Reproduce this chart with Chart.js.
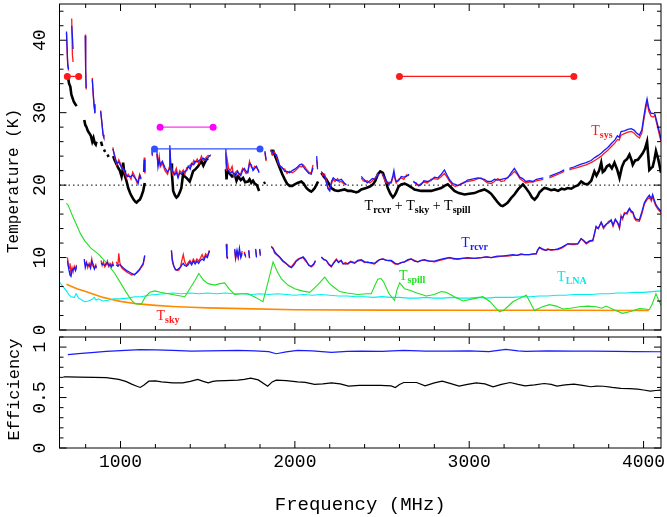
<!DOCTYPE html>
<html>
<head>
<meta charset="utf-8">
<script src="https://cdn.jsdelivr.net/npm/chart.js@4"></script>
<style>
  body { margin: 0; background: #fff; }
  #wrap { position: relative; width: 667px; height: 517px; }
  canvas { position: absolute; left: 0; }
</style>
</head>
<body>
<div id="wrap">
  <canvas id="chart_temp" width="667" height="334" style="top:0"></canvas>
  <canvas id="chart_eff" width="667" height="183" style="top:334px"></canvas>
</div>
<script>
// ---- data (frequency in MHz, temperature in K) ----
const tsysFreq = [
  690,697,702,711, 720,724,728,760, 798,800,803,820,
  838,843,848,853,870, 886,893,900,904,930,
  956,965,979,990,1006,1020,1035,1044,1060,1070,1082,1095,1101,1110,1118,1125,
  1132,1136,1140,1160, 1180,1183,1195,
  1208,1215,1222,1228,1240,1255,1270,1280,1283,1288,
  1300,1311,1320,1330,1340,1349,1360,1369,1380,1388,
  1400,1407,1420,1426,1440,1450,1464,1475,1490,1502,1517,1560,
  1604,1607,1612,1620,1630,1640,1650,1660,1670,1680,
  1690,1700,1710,1720,1730,1740,1750,1760,1770,1780,1795,1810,
  1828,1835,1850,
  1862,1870,1880,1894,1905,1913,1925,1942,1955,1970,
  1985,1999,2015,2027,2040,2047,2058,2066,2080,2094,2104,2115,
  2125,2130,2140,
  2152,2162,2171,2182,2190,2200,2210,2220,2230,2245,
  2255,2266,2280,2295,2340,
  2381,2392,2400,2415,2430,2445,2460,2475,2482,2490,
  2500,2510,2524,2540,2553,2562,2568,2575,2581,2595,
  2610,2625,2640,2655,2668,
  2680,2695,2710,2725,2740,2760,2780,2800,2820,2840,
  2858,2870,2888,2906,2920,2935,2954,2970,2990,3011,
  3030,3050,3068,3087,3105,3126,3145,3164,3183,3202,
  3221,3240,3259,3275,3290,3307,3325,3345,3365,3385,
  3405,3425,3442,
  3460,3480,3500,3520,3545,3560,
  3575,3600,3620,3642,3670,3699,3720,3740,3757,3775,
  3795,3814,3835,3850,3860,3871,3890,3910,3929,3945,
  3960,3976,3990,4000,4012,4020,4030,4043,4055,4065,4081,4092,4100
];
const tsysMeasured = [
  41.0,36.5,35.8,null, 43.0,38.0,37.0,null, 40.8,36.0,33.2,null,
  34.8,32.5,31.0,30.0,null, 30.3,28.5,27.0,26.7,null,
  25.2,24.0,22.8,23.5,22.6,21.9,21.0,21.5,20.8,21.8,21.2,20.3,20.6,21.5,21.0,null,
  22.0,23.8,21.6,null, 24.5,24.0,null,
  24.3,23.0,24.0,22.5,23.0,22.0,21.5,22.5,25.0,22.8,
  21.4,21.7,22.3,21.2,22.0,21.7,22.1,21.5,22.4,22.4,
  22.8,22.6,23.4,23.0,23.6,23.0,24.0,23.4,23.8,24.1,24.0,null,
  24.5,22.0,23.5,22.3,22.0,22.6,21.2,21.8,22.0,21.4,
  21.6,22.3,22.0,21.6,21.8,23.3,22.5,22.2,22.6,22.4,21.9,null,
  24.5,23.3,null,
  24.9,24.2,24.6,24.0,23.0,22.8,22.3,22.2,21.6,21.9,
  21.7,21.9,22.3,22.6,22.5,22.8,22.5,22.2,21.8,21.7,22.8,null,
  23.5,22.5,null,
  21.9,21.3,21.5,20.5,19.6,19.4,20.2,20.8,20.5,20.9,
  20.4,20.5,20.2,20.1,null,
  21.0,20.6,20.5,20.6,20.3,20.6,21.0,21.5,21.3,null,
  21.6,21.0,20.3,20.4,20.3,21.0,21.5,20.8,20.3,20.8,
  21.0,20.8,21.4,21.3,null,
  20.6,20.1,20.0,20.2,20.4,20.3,20.8,20.9,20.8,21.2,
  21.6,21.2,20.5,20.0,19.8,20.0,20.1,20.4,20.5,20.6,
  20.7,20.9,21.0,20.6,20.3,20.2,20.5,20.9,20.5,20.6,
  21.1,21.4,21.9,21.5,20.9,20.6,20.3,20.4,20.4,20.6,
  20.7,20.8,null,
  21.0,21.2,21.4,21.6,21.9,null,
  22.1,22.3,22.4,22.6,22.8,23.1,23.4,23.7,24.0,24.4,
  24.8,25.3,25.8,26.3,26.2,26.9,27.1,27.3,27.4,27.2,
  26.8,26.5,27.2,28.8,30.5,31.5,30.2,29.5,29.4,29.6,27.9,26.8,26.0
];
const tsysModel = [
  41.2,36.8,36.0,null, 42.0,40.5,38.8,null, 40.6,35.8,33.4,null,
  34.6,32.8,31.2,29.9,null, 30.2,28.7,26.9,26.6,null,
  25.0,24.2,23.0,23.2,22.4,22.2,21.3,21.2,21.2,21.4,21.0,20.6,20.2,21.3,20.8,null,
  21.8,23.5,21.8,null, 24.8,24.2,null,
  24.9,22.5,23.5,22.8,23.3,22.4,21.8,22.2,25.5,22.8,
  21.9,21.4,21.8,21.0,21.7,21.5,21.8,21.9,22.0,22.6,
  22.2,23.0,22.8,23.3,23.2,23.4,23.6,23.7,23.4,23.8,24.2,null,
  25.0,23.0,22.2,22.0,21.6,21.9,21.5,21.2,21.9,21.6,
  21.3,22.0,22.3,21.9,21.7,23.0,22.8,22.0,22.3,22.6,21.7,null,
  24.7,23.5,null,
  24.8,24.6,24.3,24.2,23.4,22.6,22.5,21.9,21.9,21.7,
  22.0,22.2,22.5,22.8,22.9,22.6,22.2,22.0,21.6,21.5,22.4,null,
  24.0,22.2,null,
  21.7,21.6,21.2,20.2,19.5,19.2,20.5,21.0,20.8,20.6,
  20.7,20.8,20.4,20.0,null,
  21.2,20.9,20.7,20.3,20.6,20.9,20.8,21.3,21.6,null,
  21.4,21.3,20.6,20.1,20.5,21.3,22.0,21.0,20.5,20.6,
  21.2,21.1,21.2,21.5,null,
  20.4,20.3,19.9,20.1,20.6,20.5,20.6,21.1,21.0,21.5,
  22.1,21.5,20.7,20.2,20.1,19.9,20.2,20.3,20.7,20.8,
  20.9,21.0,20.9,20.8,20.5,20.5,20.8,20.7,20.8,20.9,
  21.0,21.7,22.3,21.7,21.1,20.9,20.5,20.6,20.5,20.8,
  20.9,21.0,null,
  21.2,21.4,21.6,21.8,22.1,null,
  22.3,22.5,22.7,22.9,23.1,23.4,23.8,24.1,24.4,24.8,
  25.2,25.7,26.2,26.8,26.6,27.4,27.5,27.7,27.8,27.6,
  27.2,26.9,27.6,29.2,31.0,31.9,30.6,29.9,29.9,29.8,28.3,27.2,26.3
];

// Trcvr + Tsky + Tspill (black)
const sumFreq = [
  698,705,712,718,725,732,740,748,770,
  792,798,805,812,820,830,838,845,852,858,862,875,
  888,895,900,905,912,918,925,932,945,
  958,965,975,986,996,1006,1012,1015,1020,1025,1035,1044,1055,1063,1075,1085,1092,1100,1111,1120,1130,1139,1200,
  1290,1295,1302,1312,1321,1330,1340,1349,1355,1359,1368,1378,1390,1397,1407,1416,1430,1445,1455,1464,1475,1483,1492,1502,1550,
  1605,1608,1612,1625,1640,1655,1665,1675,1690,1703,1715,1731,1740,1750,1760,1770,1782,1795,1810,
  1822,1830,1845,
  1865,1872,1878,1884,1895,1913,1928,1942,1955,1970,1985,1999,2015,2037,2050,2066,2080,2094,2104,2114,2125,2133,2142,
  2152,2165,2180,2195,2209,2228,2247,2265,2285,2305,
  2323,2340,2352,2365,2381,2395,2409,2430,2448,2462,
  2476,2490,2505,2518,2533,2548,2562,2572,2581,2595,
  2610,2630,2648,2668,2686,2705,2724,2750,2782,2810,
  2839,2858,2877,2895,2915,2940,2973,3000,3030,3060,
  3087,3110,3126,3145,3164,3180,3192,3205,3221,3240,
  3259,3280,3308,3325,3346,3360,3375,3390,3403,3420,
  3432,3450,3470,3489,3510,3530,3547,3565,3585,3604,
  3625,3642,3660,3680,3700,3718,3730,3745,3757,3766,
  3776,3790,3804,3818,3833,3848,3862,3876,3890,3905,
  3919,3930,3938,3952,3967,3980,3995,4008,4020,4027,
  4033,4045,4052,4062,4071,4085,4100
];
const sumTemp = [
  35.0,34.0,33.6,32.5,32.0,31.5,31.2,30.9,null,
  29.0,28.3,28.0,27.5,27.2,26.8,26.0,26.5,25.8,25.6,26.0,null,
  26.0,25.4,null,24.9,24.6,null,24.2,23.9,null,
  24.0,23.5,23.0,22.4,22.0,21.2,22.0,23.1,22.0,21.3,20.5,19.6,18.9,18.5,18.0,17.7,17.6,17.8,18.0,18.5,19.2,20.3,null,
  23.0,21.5,19.2,18.6,18.3,18.5,19.0,19.6,20.8,21.5,21.2,21.0,20.7,20.5,21.2,21.9,22.2,22.6,23.0,23.3,22.7,23.1,23.5,23.7,null,
  22.2,20.8,22.0,21.6,21.2,21.5,20.6,21.2,20.7,21.0,20.4,20.5,20.8,20.3,20.6,20.2,20.0,19.2,null,
  20.2,20.4,null,
  24.9,24.4,24.6,24.2,23.5,22.4,21.5,20.8,20.2,19.9,19.9,20.1,20.3,20.5,20.2,19.6,19.3,19.1,19.3,19.6,20.1,20.5,null,
  21.7,21.2,20.8,20.2,19.6,19.3,19.2,19.3,19.4,19.2,
  19.2,19.1,19.0,19.1,19.4,19.5,19.6,19.8,20.1,20.6,
  21.5,21.9,21.7,20.8,19.6,18.8,18.3,18.6,19.0,19.8,
  20.1,20.2,20.0,19.7,19.4,19.3,19.2,19.2,19.2,19.4,
  19.6,19.9,20.1,19.7,19.2,18.9,18.7,18.8,18.9,19.2,
  19.4,19.1,18.8,18.2,17.6,17.2,17.1,17.3,17.6,18.2,
  18.7,19.4,20.1,19.6,18.9,18.3,18.0,18.4,19.0,19.4,
  19.6,19.5,19.3,19.4,19.2,19.5,19.4,19.6,19.5,19.8,
  20.0,20.5,20.2,20.1,20.6,21.9,21.3,22.0,23.1,21.8,
  22.0,22.6,22.8,22.3,23.1,22.2,21.0,22.5,23.3,23.6,
  24.2,23.5,22.8,23.4,23.5,23.9,24.4,25.0,26.0,24.0,
  22.1,22.4,22.5,23.5,24.7,23.5,21.7
];

// receiver temperature
const rcvrFreq = [
  696,700,705,710,716,722,728,735,742,748,770,
  792,798,805,812,820,828,835,842,850,858,862,875,
  888,895,902,910,918,925,932,940,948,955,960,968,
  975,985,990,996,1006,1015,1025,1035,1050,1065,
  1080,1095,1110,1120,1130,1139,1200,
  1292,1297,1305,1315,1325,1335,1345,1352,1360,1368,
  1378,1388,1398,1408,1418,1428,1438,1448,1458,1468,
  1478,1488,1498,1510,1560,
  1607,1610,1615,1635,
  1655,1660,1668,1675,1682,1690,1698,1704,
  1710,1718,1726,1735,1740,1755,1775,1780,1790,1798,1802,1830,
  1865,1875,1884,1895,1913,1930,1951,1965,1980,1995,
  2008,2025,2047,2058,2066,2080,2094,2108,2118,2135,
  2152,2165,2180,2195,2209,2222,2238,2250,2265,2276,
  2290,2304,2320,2343,2360,2381,2400,2419,2440,2457,
  2470,2485,2505,2525,2553,2575,2591,2610,2629,2648,
  2667,2686,2705,2725,2744,2770,2801,2830,2860,2887,
  2910,2935,2960,2990,3030,3070,3100,3126,3160,3190,
  3221,3250,3275,3297,3317,3345,3370,3384,3392,3403,
  3420,3440,3451,3470,3490,3508,3530,3550,3566,3585,
  3605,3623,3642,3655,3671,3690,3709,3718,3728,3740,
  3757,3770,3785,3800,3814,3825,3838,3852,3862,3871,
  3880,3890,3905,3919,3930,3938,3948,3957,3976,3990,
  4005,4020,4033,4045,4052,4062,4071,4085,4100
];
const rcvrMeasured = [
  10.0,9.0,8.5,9.2,8.0,8.6,8.0,8.8,8.4,9.0,null,
  9.5,9.0,9.4,8.6,9.2,8.8,9.8,8.8,8.6,9.0,8.5,null,
  9.6,8.9,9.4,8.7,9.0,9.5,8.8,9.2,8.9,9.3,8.8,null,
  9.4,9.0,10.6,9.3,8.6,8.4,8.2,8.0,7.8,7.6,
  7.7,7.9,8.3,8.7,9.0,10.2,null,
  10.9,9.5,8.8,8.4,8.2,8.3,8.8,9.6,10.4,9.4,
  8.9,9.3,9.6,9.2,9.8,9.3,9.8,9.5,9.9,10.4,
  9.8,10.5,10.2,11.0,null,
  11.9,10.0,9.8,null,
  11.0,9.8,10.8,9.9,10.8,10.2,10.9,null,
  10.8,10.0,null,11.0,10.0,null,11.0,10.2,null,11.0,10.2,null,
  11.6,11.2,10.6,10.4,10.0,9.5,9.1,8.9,8.7,9.2,
  9.6,9.9,10.0,9.6,9.4,9.0,8.7,9.0,9.6,null,
  10.0,9.8,9.6,9.0,8.7,9.3,9.8,9.4,9.6,9.1,
  9.3,9.1,9.5,9.3,9.5,9.6,9.3,9.4,9.2,9.1,
  9.5,9.7,9.8,9.6,9.5,9.1,9.1,9.3,9.4,9.6,
  9.8,9.6,9.4,9.6,9.6,9.5,9.4,9.6,9.8,10.0,
  9.8,9.8,9.9,9.9,9.9,10.0,10.1,10.0,10.1,10.2,
  10.2,10.3,10.3,10.4,10.4,10.4,10.5,10.5,11.0,11.4,
  11.1,11.0,11.2,11.0,11.1,11.1,11.3,11.6,11.9,11.8,
  11.8,11.9,12.6,12.3,11.9,12.2,12.3,13.2,14.2,14.0,
  14.8,14.0,14.5,15.0,15.1,14.3,15.2,14.7,14.0,15.8,
  15.3,16.2,16.0,16.7,16.2,16.2,15.4,15.1,15.0,16.0,
  17.4,18.0,18.3,17.8,18.5,17.6,17.1,16.6,16.2
];
const rcvrModel = [
  9.6,8.8,8.2,7.6,7.4,8.2,8.4,8.6,8.2,8.8,null,
  9.8,8.6,9.2,8.9,9.0,8.5,9.5,9.1,8.4,8.8,8.7,null,
  9.2,9.1,9.0,8.9,9.2,9.3,8.9,9.0,8.7,9.0,8.9,null,
  9.0,8.8,9.0,9.0,8.8,8.6,8.4,8.2,8.0,7.8,
  7.6,8.0,8.4,8.8,9.2,10.3,null,
  11.0,9.7,8.9,8.3,8.3,8.5,8.7,9.0,9.2,8.9,
  8.8,9.0,9.4,9.0,9.5,9.1,9.5,9.2,9.6,9.8,
  9.6,10.2,10.0,10.9,null,
  11.8,10.2,9.9,null,
  11.2,10.0,11.0,10.1,11.3,10.0,10.6,null,
  10.6,10.2,null,11.0,9.9,null,11.2,10.0,null,11.2,10.4,null,
  11.4,11.3,10.8,10.5,10.1,9.6,9.2,8.8,8.6,9.0,
  9.5,9.8,10.1,9.8,9.5,8.9,8.8,9.1,9.5,null,
  10.1,9.7,9.6,9.1,8.8,9.2,9.7,9.3,9.6,9.2,
  9.1,9.2,9.4,9.2,9.6,9.7,9.4,9.3,9.3,9.2,
  9.4,9.7,9.8,9.6,9.6,9.2,9.1,9.3,9.4,9.7,
  9.8,9.5,9.4,9.6,9.7,9.5,9.5,9.7,9.9,10.0,
  9.9,9.8,9.9,10.0,9.9,10.0,10.1,10.0,10.2,10.2,
  10.3,10.4,10.3,10.5,10.4,10.4,10.5,10.5,11.0,11.4,
  11.2,11.0,11.1,11.1,11.1,11.2,11.4,11.7,11.9,11.9,
  11.9,11.9,12.6,12.4,12.0,12.3,12.4,13.3,14.3,14.0,
  14.9,14.2,14.6,14.8,15.2,14.5,15.3,14.8,14.2,15.6,
  15.5,16.0,16.2,16.8,16.4,16.3,15.6,15.3,15.2,16.3,
  17.6,18.2,18.6,18.1,18.7,17.9,17.3,16.8,16.4
];

// spillover (green)
const spillFreq = [
  690,700,720,750,770,795,830,872,900,930,
  967,1000,1030,1063,1080,1092,1120,1140,1168,1197,
  1230,1273,1320,1369,1400,1426,1449,1475,1502,1540,
  1570,1597,1625,1655,1700,1731,1775,1817,1845,1875,
  1900,1922,1960,1999,2040,2085,2130,2171,2199,2230,
  2257,2300,2362,2410,2438,2460,2476,2495,2510,2540,
  2572,2585,2601,2629,2658,2700,2754,2800,2839,2868,
  2915,2964,3020,3078,3120,3150,3174,3202,3250,3290,
  3327,3350,3374,3420,3460,3500,3537,3580,3632,3680,
  3728,3760,3785,3830,3880,3930,3976,4010,4033,4050,
  4071,4085,4100
];
const spillTemp = [
  17.5,17.2,16.0,14.4,13.3,12.3,11.3,10.5,9.8,9.0,
  7.8,6.5,5.3,4.1,3.7,3.6,3.6,4.5,5.2,5.4,
  5.2,5.0,4.8,4.6,5.8,6.8,7.8,6.9,6.4,6.2,
  6.4,6.5,5.6,4.9,5.0,5.0,4.5,3.9,6.5,9.4,
  8.0,7.1,6.2,5.7,5.4,5.2,6.2,7.3,6.4,5.8,
  5.3,5.1,4.9,5.0,5.0,6.2,7.0,7.1,6.6,5.0,
  4.1,5.5,6.5,5.7,5.5,5.1,4.7,4.9,5.3,5.2,
  4.6,4.0,4.3,4.6,3.9,3.1,2.5,2.8,3.9,4.4,
  4.8,3.8,2.7,3.2,3.5,3.3,2.9,3.0,3.2,3.3,
  3.2,3.0,3.3,2.8,2.3,2.6,2.95,2.9,2.8,3.6,
  5.0,4.2,3.4
];

// LNA (cyan)
const lnaFreq = [
  650,670,690,700,715,735,745,760,780,795,
  815,835,850,860,872,900,930,960,1000,1040,
  1082,1120,1158,1200,1254,1300,1350,1400,1450,1500,
  1550,1600,1650,1700,1750,1800,1850,1900,1950,2000,
  2050,2100,2150,2200,2250,2300,2350,2400,2450,2500,
  2550,2600,2650,2700,2750,2800,2850,2900,2950,3000,
  3050,3100,3150,3200,3250,3300,3350,3400,3450,3500,
  3550,3600,3650,3700,3750,3800,3850,3900,3950,4000,
  4050,4100
];
const lnaTemp = [
  6.6,6.0,5.4,5.0,4.6,4.5,5.0,4.4,4.1,3.9,
  4.0,4.2,4.5,4.1,4.3,4.0,4.1,4.3,4.3,4.4,
  4.6,4.6,4.8,4.9,5.0,5.1,5.0,5.1,5.0,5.1,
  5.0,5.1,5.0,5.0,4.9,5.0,4.9,5.0,4.9,4.8,
  4.9,4.8,4.9,4.8,4.7,4.7,4.6,4.6,4.5,4.6,
  4.5,4.5,4.4,4.4,4.5,4.4,4.4,4.5,4.4,4.4,
  4.5,4.4,4.5,4.5,4.5,4.6,4.6,4.7,4.7,4.8,
  4.8,4.9,4.9,4.9,5.0,5.0,5.1,5.1,5.2,5.2,
  5.3,5.4
];

// sky (orange)
const skyFreq = [690,720,750,800,850,900,950,1000,1100,1200,1300,1400,1500,1700,2000,2500,3000,3500,4030];
const skyTemp = [6.3,6.0,5.7,5.3,4.9,4.5,4.2,3.95,3.6,3.4,3.25,3.15,3.05,2.95,2.8,2.75,2.73,2.72,2.7];

// horizontal range markers
const bandStart = [695, 1227, 1195, 2600];
const bandEnd = [760, 1531, 1800, 3600];
const bandLevel = [35, 28, 25, 35];
const refLevel = 20;

// efficiency panel
const effFreqBlack = [
  673,698,760,850,918,990,1030,1064,1090,1113,
  1135,1162,1200,1235,1300,1357,1400,1443,1475,1503,
  1530,1552,1600,1673,1710,1747,1790,1844,1870,1893,
  1950,2016,2060,2113,2160,2210,2260,2308,2370,2430,
  2490,2552,2576,2600,2625,2698,2747,2800,2845,2890,
  2942,2990,3040,3090,3137,3185,3235,3280,3320,3375,
  3430,3470,3503,3550,3601,3650,3698,3730,3771,3820,
  3869,3920,3966,4000,4039,4070,4100
];
const effBlack = [
  0.705,0.705,0.703,0.700,0.698,0.680,0.660,0.633,0.615,0.600,
  0.625,0.662,0.665,0.656,0.645,0.645,0.660,0.679,0.660,0.646,
  0.660,0.666,0.668,0.672,0.680,0.692,0.675,0.613,0.655,0.672,
  0.668,0.656,0.650,0.630,0.635,0.646,0.635,0.613,0.620,0.620,
  0.620,0.615,0.600,0.630,0.649,0.649,0.616,0.645,0.662,0.640,
  0.613,0.630,0.646,0.635,0.607,0.630,0.649,0.630,0.616,0.625,
  0.639,0.630,0.613,0.625,0.633,0.620,0.607,0.613,0.612,0.600,
  0.590,0.588,0.584,0.575,0.564,0.570,0.574
];
const effFreqBlue = [
  698,760,850,918,1000,1113,1200,1300,1406,1500,
  1600,1673,1770,1850,1893,1950,2016,2100,2210,2300,
  2381,2500,2625,2750,2869,3000,3113,3210,3280,3325,
  3450,3601,3700,3844,3950,4100
];
const effBlue = [
  0.925,0.935,0.948,0.957,0.965,0.974,0.972,0.968,0.961,0.962,
  0.964,0.967,0.962,0.955,0.934,0.952,0.967,0.962,0.948,0.958,
  0.961,0.958,0.967,0.960,0.961,0.962,0.955,0.977,0.962,0.958,
  0.962,0.961,0.960,0.957,0.955,0.954
];

const freqTicks = [1000, 2000, 3000, 4000];
const tempTicks = [0, 10, 20, 30, 40];
const effTicks = [0, 0.5, 1];
const effTickText = ['0', '0.5', '1'];

// ---- helpers ----
function pts(xs, ys) {
  return xs.map((x, i) => ({x: x, y: ys[i]}));
}

function line(label, data, color, width) {
  return {label: label, data: data, borderColor: color, backgroundColor: color,
          borderWidth: width, pointRadius: 0, fill: false, tension: 0, spanGaps: false};
}

const AXIS_FONT = '"Liberation Mono", monospace';

// frame, inward ticks on all sides, tick labels, titles
const frameTicks = {
  id: 'frameTicks',
  afterDatasetsDraw(chart, args, o) {
    const ctx = chart.ctx, a = chart.chartArea;
    const x = chart.scales.x, y = chart.scales.y;
    ctx.save();
    ctx.strokeStyle = '#000';
    ctx.lineWidth = 1;
    ctx.strokeRect(a.left, a.top, a.right - a.left, a.bottom - a.top);
    ctx.beginPath();
    for (let v = Math.ceil(x.min / o.xMinor) * o.xMinor; v <= x.max; v += o.xMinor) {
      const px = x.getPixelForValue(v);
      const len = v % o.xMajor === 0 ? 7 : 4;
      ctx.moveTo(px, a.bottom); ctx.lineTo(px, a.bottom - len);
      ctx.moveTo(px, a.top); ctx.lineTo(px, a.top + len);
    }
    const n = Math.floor((y.max - y.min) / o.yMinor + 1e-6);
    for (let i = 0; i <= n; i++) {
      const py = y.getPixelForValue(y.min + i * o.yMinor);
      const len = i % o.yMajorEvery === 0 ? 7 : 4;
      ctx.moveTo(a.left, py); ctx.lineTo(a.left + len, py);
      ctx.moveTo(a.right, py); ctx.lineTo(a.right - len, py);
    }
    ctx.stroke();

    ctx.fillStyle = '#000';
    ctx.textAlign = 'center';
    ctx.textBaseline = 'middle';
    ctx.font = '18px ' + AXIS_FONT;
    o.yValues.forEach((v, i) => {
      ctx.save();
      ctx.translate(40, y.getPixelForValue(v));
      ctx.rotate(-Math.PI / 2);
      ctx.fillText(o.yText[i], 0, 0);
      ctx.restore();
    });
    ctx.save();
    ctx.font = o.yTitleFont + ' ' + AXIS_FONT;
    ctx.translate(14, (a.top + a.bottom) / 2 + o.yTitleShift);
    ctx.rotate(-Math.PI / 2);
    ctx.fillText(o.yTitle, 0, 0);
    ctx.restore();
    if (o.xValues) {
      ctx.font = '18px ' + AXIS_FONT;
      o.xValues.forEach(v => ctx.fillText(String(v), x.getPixelForValue(v), a.bottom + 14));
      ctx.font = '19px ' + AXIS_FONT;
      ctx.fillText(o.xTitle, (a.left + a.right) / 2, a.bottom + 57);
    }
    ctx.restore();
  }
};

// curve labels with subscripts, placed in data coordinates
const curveNotes = {
  id: 'curveNotes',
  afterDatasetsDraw(chart, args, o) {
    const ctx = chart.ctx, x = chart.scales.x, y = chart.scales.y;
    ctx.save();
    ctx.textAlign = 'left';
    ctx.textBaseline = 'alphabetic';
    o.items.forEach(it => {
      let cx = x.getPixelForValue(it.at[0]);
      const cy = y.getPixelForValue(it.at[1]);
      ctx.fillStyle = it.color;
      it.parts.forEach(p => {
        ctx.font = '14px "Liberation Serif", serif';
        ctx.fillText(p[0], cx, cy);
        cx += ctx.measureText(p[0]).width;
        ctx.font = 'bold 10px "Liberation Serif", serif';
        ctx.fillText(p[1], cx, cy + 3);
        cx += ctx.measureText(p[1]).width;
      });
    });
    ctx.restore();
  }
};

const RED = '#ff1a1a', BLUE = '#1a1aff', GREEN = '#22e022', CYAN = '#00eeee',
      ORANGE = '#ff8a00', MAGENTA = '#ff33ee', BAND_BLUE = '#3050ff';
const bandColors = [RED, MAGENTA, BAND_BLUE, RED];

const bandSets = bandStart.map((s, i) => ({
  label: 'band' + i,
  data: [{x: s, y: bandLevel[i]}, {x: bandEnd[i], y: bandLevel[i]}],
  borderColor: bandColors[i], backgroundColor: bandColors[i],
  pointBackgroundColor: i === 1 ? '#ff00ff' : bandColors[i],
  pointBorderWidth: 0, borderWidth: 1.3, pointRadius: 3.5, fill: false
}));

const refLine = {
  label: 'ref', data: [{x: 650, y: refLevel}, {x: 4100, y: refLevel}],
  borderColor: '#000', borderWidth: 1, borderDash: [1.5, 3], pointRadius: 0, fill: false
};

const tempChart = new Chart(document.getElementById('chart_temp').getContext('2d'), {
  type: 'line',
  data: {
    datasets: bandSets.concat([
      line('Tsys model', pts(tsysFreq, tsysModel), BLUE, 1.3),
      line('Tsys', pts(tsysFreq, tsysMeasured), RED, 1.3),
      line('Trcvr+Tsky+Tspill', pts(sumFreq, sumTemp), '#000', 2.6),
      line('Trcvr model', pts(rcvrFreq, rcvrModel), BLUE, 1.3),
      line('Trcvr', pts(rcvrFreq, rcvrMeasured), RED, 1.3),
      line('Tspill', pts(spillFreq, spillTemp), GREEN, 1.1),
      line('TLNA', pts(lnaFreq, lnaTemp), CYAN, 1.1),
      line('Tsky', pts(skyFreq, skyTemp), ORANGE, 1.6),
      refLine
    ])
  },
  options: {
    responsive: false,
    animation: false,
    devicePixelRatio: 1,
    layout: {padding: {left: 59.5, right: 6, top: 1, bottom: 4}},
    scales: {
      x: {type: 'linear', min: 650, max: 4100, display: false},
      y: {type: 'linear', min: 0, max: 45, display: false}
    },
    plugins: {
      legend: {display: false},
      tooltip: {enabled: false},
      frameTicks: {xMinor: 200, xMajor: 1000, yMinor: 2, yMajorEvery: 5,
                   yValues: tempTicks, yText: tempTicks.map(String),
                   yTitle: 'Temperature (K)', yTitleFont: '16px', yTitleShift: 14},
      curveNotes: {items: [
        {parts: [['T', 'sys']], color: RED, at: [3700, 26.9]},
        {parts: [['T', 'rcvr'], [' + T', 'sky'], [' + T', 'spill']], color: '#000', at: [2400, 16.5]},
        {parts: [['T', 'rcvr']], color: BLUE, at: [2955, 11.5]},
        {parts: [['T', 'spill']], color: GREEN, at: [2597, 6.9]},
        {parts: [['T', 'LNA']], color: CYAN, at: [3504, 6.8]},
        {parts: [['T', 'sky']], color: RED, at: [1206, 1.4]}
      ]}
    }
  },
  plugins: [frameTicks, curveNotes]
});

const effChart = new Chart(document.getElementById('chart_eff').getContext('2d'), {
  type: 'line',
  data: {
    datasets: [
      line('efficiency (blue)', pts(effFreqBlue, effBlue), BLUE, 1.2),
      line('efficiency (black)', pts(effFreqBlack, effBlack), '#000', 1.2)
    ]
  },
  options: {
    responsive: false,
    animation: false,
    devicePixelRatio: 1,
    layout: {padding: {left: 59.5, right: 6, top: 3, bottom: 69}},
    scales: {
      x: {type: 'linear', min: 650, max: 4100, display: false},
      y: {type: 'linear', min: 0, max: 1.1, display: false}
    },
    plugins: {
      legend: {display: false},
      tooltip: {enabled: false},
      frameTicks: {xMinor: 200, xMajor: 1000, yMinor: 0.1, yMajorEvery: 5,
                   yValues: effTicks, yText: effTickText,
                   yTitle: 'Efficiency', yTitleFont: '17px', yTitleShift: -3,
                   xValues: freqTicks, xTitle: 'Frequency (MHz)'}
    }
  },
  plugins: [frameTicks]
});
</script>
</body>
</html>
